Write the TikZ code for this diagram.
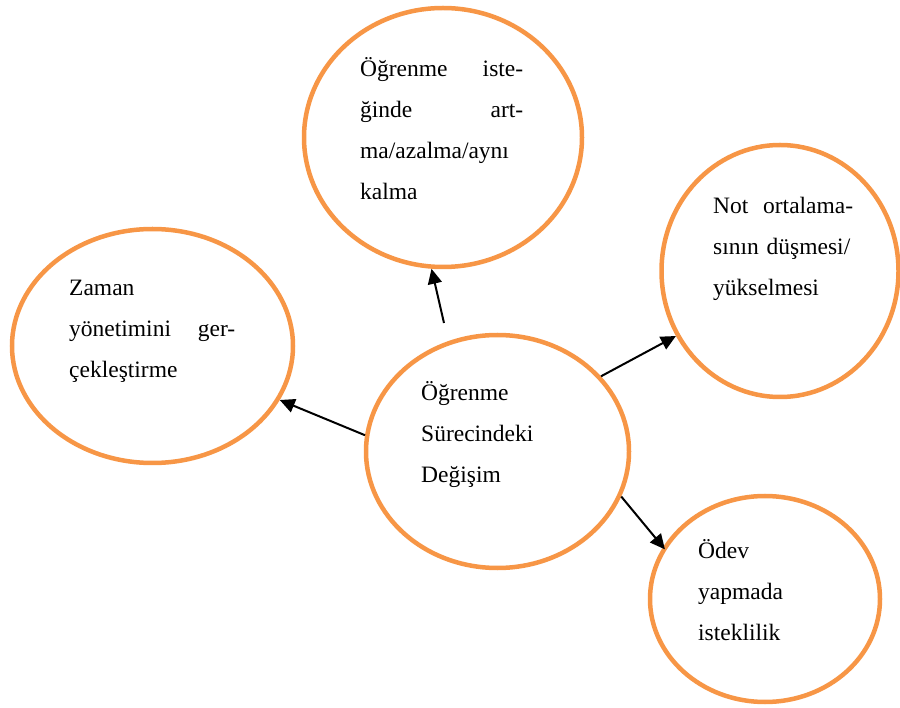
\documentclass[tikz,border=0pt]{standalone}
\usepackage{fontspec}
\setmainfont{Liberation Serif}
\usetikzlibrary{shapes.geometric,arrows.meta}
\definecolor{ringorange}{HTML}{F79646}
\tikzset{
  ring/.style={ellipse, draw=ringorange, line width=4.5pt, inner sep=0pt, fill=white},
  txt/.style={inner sep=0pt, align=left, anchor=base west, font=\fontsize{23.5}{41}\selectfont},
  arr/.style={line width=2pt, -{Triangle[length=15pt,width=14pt]}}
}
\begin{document}
\begin{tikzpicture}[x=1pt,y=-1pt]
\useasboundingbox (0,0) rectangle (900,708);
% ellipses
\node[ring, minimum width=278pt, minimum height=259pt] (T) at (443,137.5) {};
\node[ring, minimum width=281pt, minimum height=234pt] (L) at (152.5,346) {};
\node[ring, minimum width=263pt, minimum height=233pt] (C) at (497.5,451.5) {};
\node[ring, minimum width=237pt, minimum height=252pt] (R) at (780,271) {};
\node[ring, minimum width=230pt, minimum height=206pt] (B) at (765,599) {};
% texts
\node[txt, text width=163pt] (tT) at (360,77) {Öğrenme\hfill iste-\\ğinde\hfill art-\\ma/azalma/aynı\\kalma};
\node[txt, text width=166pt] (tL) at (69,296) {Zaman\\yönetimini\hfill ger-\\çekleştirme};
\node[txt, text width=130pt] (tC) at (421,401) {Öğrenme\\Sürecindeki\\Değişim};
\node[txt, text width=140pt] (tR) at (713,214) {Not\hfill ortalama-\\sının düşmesi/\\yükselmesi};
\node[txt, text width=120pt] (tB) at (698,558) {Ödev\\yapmada\\isteklilik};
% arrows
\coordinate (cTop) at (444,323);
\draw[arr] (cTop) -- (T.265.25);
\draw[arr] (C.173.7) -- (L.-23.4);
\draw[arr] (C.36.9) -- (R.212.6);
\draw[arr, shorten >=-3pt] (C.-20.5) -- (B.153.2);
\end{tikzpicture}
\end{document}
